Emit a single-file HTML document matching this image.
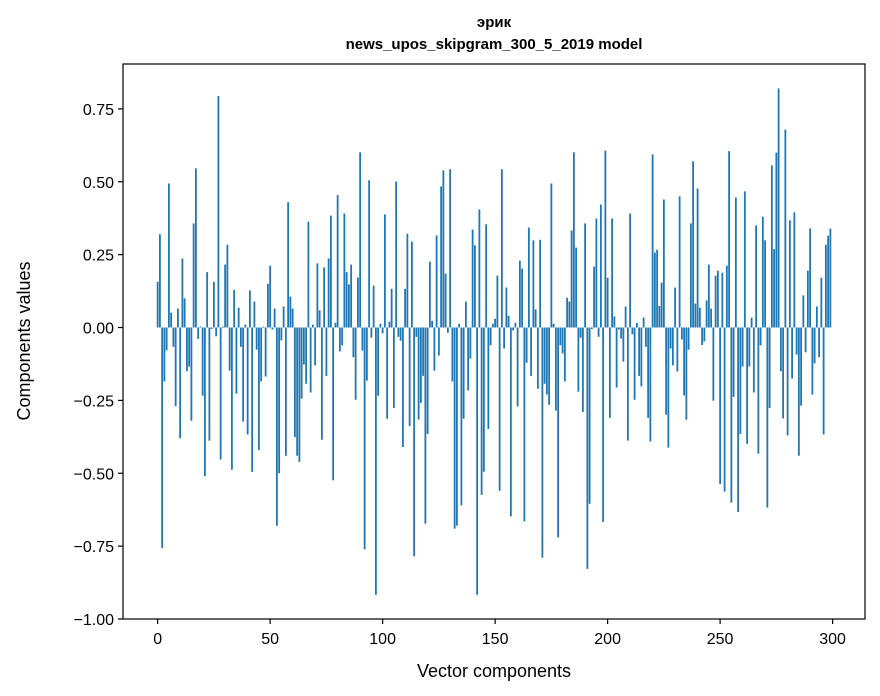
<!DOCTYPE html>
<html>
<head>
<meta charset="utf-8">
<style>
html,body{margin:0;padding:0;background:#fff;}
svg{display:block;font-family:"Liberation Sans","DejaVu Sans",sans-serif;}
</style>
</head>
<body>
<svg id="chart" width="880" height="696" viewBox="0 0 880 696" xmlns="http://www.w3.org/2000/svg">
<rect x="0" y="0" width="880" height="696" fill="#fff"/>
<text x="494" y="27" text-anchor="middle" font-size="15" font-weight="bold">эрик</text>
<text x="494" y="49" text-anchor="middle" font-size="15" font-weight="bold">news_upos_skipgram_300_5_2019 model</text>
<g id="bars"></g>
<g id="xticks"></g>
<g id="yticks"></g>
<rect x="123" y="64" width="742" height="555" fill="none" stroke="#000" stroke-width="1.2"/>
<text x="494" y="677" text-anchor="middle" font-size="18">Vector components</text>
<text x="30" y="341" text-anchor="middle" font-size="18" transform="rotate(-90 30 341)">Components values</text>
</svg>
<script>
const values = [
0.157,0.32,-0.757,-0.185,-0.078,0.494,0.051,-0.066,-0.27,0.065,
-0.38,0.237,0.10,-0.15,-0.134,-0.32,0.357,0.546,-0.039,0.003,
-0.234,-0.51,0.19,-0.388,-0.005,0.157,-0.03,0.794,-0.453,0.003,
0.216,0.284,-0.148,-0.488,0.129,-0.227,0.068,-0.066,-0.323,0.01,
-0.367,0.127,-0.495,0.089,-0.076,-0.42,-0.185,0.003,-0.168,0.15,
0.212,-0.007,0.065,-0.68,-0.5,-0.044,0.072,-0.44,0.43,0.106,
0.065,-0.376,-0.44,-0.461,-0.244,-0.127,-0.193,0.363,-0.223,0.01,
-0.13,0.22,0.059,-0.385,0.206,-0.166,0.237,0.384,-0.524,0.016,
0.454,-0.082,-0.061,0.391,0.19,0.148,0.216,-0.102,-0.248,0.171,
0.601,-0.079,-0.761,-0.182,0.505,-0.035,0.144,-0.917,-0.234,0.013,
-0.02,0.388,-0.313,0.02,0.133,-0.276,0.501,-0.032,-0.045,-0.41,
0.133,0.322,-0.338,0.295,-0.785,-0.032,-0.316,-0.259,-0.166,-0.673,
-0.365,0.226,0.023,-0.148,0.316,-0.096,0.484,0.539,0.185,-0.018,
0.543,-0.185,-0.69,-0.68,0.013,-0.61,-0.313,0.089,-0.216,-0.107,
0.336,0.282,-0.917,0.405,-0.574,-0.495,0.354,-0.348,-0.061,0.013,
0.03,0.178,-0.56,0.543,-0.072,0.137,0.04,-0.648,-0.01,0.016,
-0.271,0.229,0.202,-0.665,-0.121,0.343,-0.166,0.299,0.062,-0.21,
0.301,-0.79,-0.193,-0.23,-0.265,0.494,0.013,-0.285,-0.72,-0.061,
-0.089,-0.185,0.102,0.089,0.333,0.601,0.274,-0.22,-0.035,-0.29,
0.357,-0.828,-0.605,-0.005,0.209,0.374,-0.032,0.422,-0.667,0.607,
0.171,-0.31,0.374,0.038,-0.206,-0.007,-0.038,-0.117,0.072,-0.388,
0.391,-0.023,-0.248,0.016,-0.166,-0.202,0.034,-0.066,-0.31,-0.391,
0.594,0.257,0.267,0.074,0.154,0.439,-0.299,-0.412,-0.072,-0.13,
0.137,-0.151,0.45,-0.041,-0.233,-0.316,-0.076,0.357,0.57,0.082,
0.477,0.068,-0.06,-0.048,0.093,0.216,0.065,-0.251,0.178,0.195,
-0.537,0.188,-0.563,0.212,0.605,-0.601,-0.238,0.446,-0.633,-0.365,
-0.134,0.467,-0.399,-0.134,0.034,-0.223,0.35,-0.433,-0.061,0.38,
0.299,-0.618,-0.276,0.556,0.269,0.6,0.82,-0.15,-0.312,0.679,
-0.37,0.368,-0.175,0.395,-0.093,-0.44,-0.268,0.11,-0.085,0.195,
0.34,-0.23,-0.123,0.072,-0.102,0.171,-0.367,0.284,0.315,0.339
];
const xTicks = [0,50,100,150,200,250,300];
const yTicks = [-1.00,-0.75,-0.50,-0.25,0.00,0.25,0.50,0.75];

const NS = "http://www.w3.org/2000/svg";
const L=123,R=865,T=64,B=619;
const xMin=-15.4,xMax=314.4,yMin=-1.0,yMax=0.904;
function xs(v){return L+(v-xMin)/(xMax-xMin)*(R-L);}
function ys(v){return B-(v-yMin)/(yMax-yMin)*(B-T);}

const gb=document.getElementById('bars');
values.forEach((v,i)=>{
  const r=document.createElementNS(NS,'rect');
  const x0=xs(i-0.4), x1=xs(i+0.4);
  const y0=ys(Math.max(v,0)), y1=ys(Math.min(v,0));
  r.setAttribute('x',x0);
  r.setAttribute('y',y0);
  r.setAttribute('width',x1-x0);
  r.setAttribute('height',Math.max(y1-y0,0.3));
  r.setAttribute('fill','#1f77b4');
  
  
  gb.appendChild(r);
});

const gx=document.getElementById('xticks');
xTicks.forEach(t=>{
  const x=xs(t);
  const ln=document.createElementNS(NS,'line');
  ln.setAttribute('x1',x);ln.setAttribute('x2',x);
  ln.setAttribute('y1',B);ln.setAttribute('y2',B+5);
  ln.setAttribute('stroke','#000');ln.setAttribute('stroke-width','1.2');
  
  
  gx.appendChild(ln);
  const tx=document.createElementNS(NS,'text');
  tx.setAttribute('x',x);tx.setAttribute('y',B+25);
  tx.setAttribute('text-anchor','middle');tx.setAttribute('font-size','16');
  tx.textContent=String(t);
  
  
  gx.appendChild(tx);
});

const gy=document.getElementById('yticks');
yTicks.forEach(t=>{
  const y=ys(t);
  const ln=document.createElementNS(NS,'line');
  ln.setAttribute('x1',L-5);ln.setAttribute('x2',L);
  ln.setAttribute('y1',y);ln.setAttribute('y2',y);
  ln.setAttribute('stroke','#000');ln.setAttribute('stroke-width','1.2');
  
  
  gy.appendChild(ln);
  const tx=document.createElementNS(NS,'text');
  tx.setAttribute('x',L-9);tx.setAttribute('y',y+6);
  tx.setAttribute('text-anchor','end');tx.setAttribute('font-size','16');
  tx.textContent=(t<0?'\u2212':'')+Math.abs(t).toFixed(2);
  
  
  gy.appendChild(tx);
});
</script>
</body>
</html>
